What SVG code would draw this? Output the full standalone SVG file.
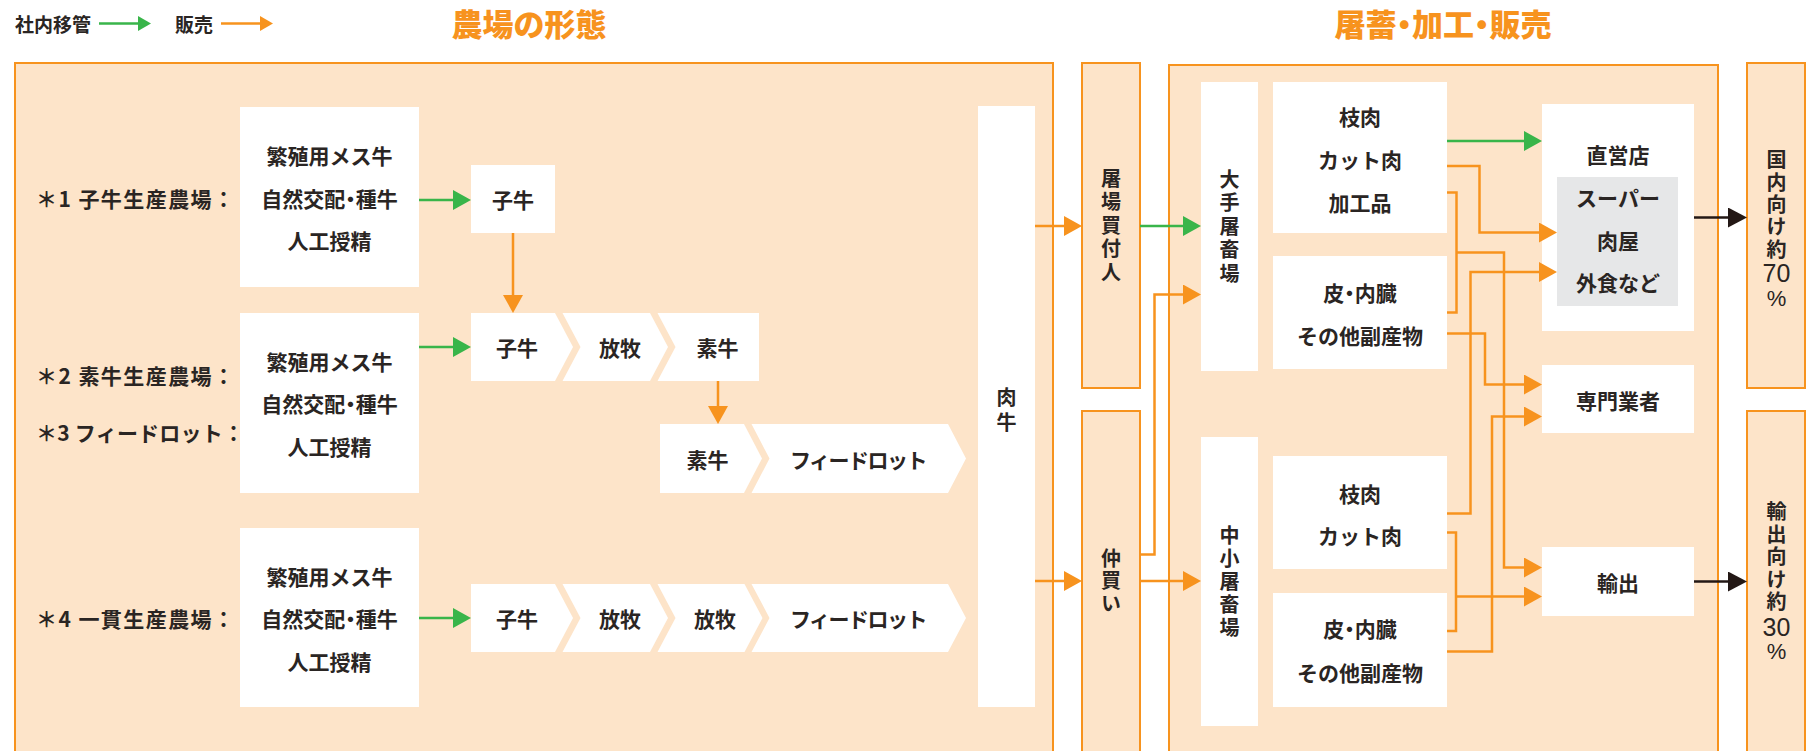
<svg xmlns="http://www.w3.org/2000/svg" width="1816" height="751" viewBox="0 0 1816 751">
<defs>
<style>
.t{font-family:"Noto Sans CJK JP","Noto Sans",sans-serif;font-size:21px;font-weight:700;fill:#2a2523;text-anchor:middle;dominant-baseline:central}
.p{font-feature-settings:"palt" 1}
.fl{letter-spacing:-1.5px}
.v{font-family:"Noto Sans CJK JP","Noto Sans",sans-serif;font-size:20px;font-weight:700;fill:#2a2523;text-anchor:middle;writing-mode:vertical-rl}
.n{font-family:"Liberation Sans",Arial,sans-serif;font-size:25px;font-weight:400;fill:#2a2523;text-anchor:middle;dominant-baseline:central}
.pc{font-family:"Liberation Sans",Arial,sans-serif;font-size:22px;font-weight:400;fill:#2a2523;text-anchor:middle;dominant-baseline:central}
.lab{font-family:"Noto Sans CJK JP","Noto Sans",sans-serif;font-size:21px;font-weight:700;fill:#2a2523;dominant-baseline:central}
.leg{font-family:"Noto Sans CJK JP","Noto Sans",sans-serif;font-size:19px;font-weight:700;fill:#2a2523;dominant-baseline:central}
.ttl{font-family:"Noto Sans CJK JP","Noto Sans",sans-serif;font-size:31px;font-weight:900;fill:#F7931E;text-anchor:middle;dominant-baseline:central}
.frame{fill:#FDE4C9;stroke:#F7931E;stroke-width:2}
.wb{fill:#FFFFFF}
.gb{fill:#E6E7E8}
.o{fill:none;stroke:#F7931E;stroke-width:2.5}
.g{fill:none;stroke:#39B54A;stroke-width:2.5}
.k{fill:none;stroke:#231815;stroke-width:2.5}
</style>
<marker id="mO" markerUnits="userSpaceOnUse" markerWidth="18" markerHeight="20" refX="0" refY="10" orient="auto"><path d="M0,0 L18,10 L0,20 Z" fill="#F7931E"/></marker>
<marker id="mG" markerUnits="userSpaceOnUse" markerWidth="18" markerHeight="20" refX="0" refY="10" orient="auto"><path d="M0,0 L18,10 L0,20 Z" fill="#39B54A"/></marker>
<marker id="mK" markerUnits="userSpaceOnUse" markerWidth="19" markerHeight="20" refX="0" refY="10" orient="auto"><path d="M0,0 L19,10 L0,20 Z" fill="#231815"/></marker>
<marker id="mOs" markerUnits="userSpaceOnUse" markerWidth="13" markerHeight="15" refX="0" refY="7.5" orient="auto"><path d="M0,0 L13,7.5 L0,15 Z" fill="#F7931E"/></marker>
<marker id="mGs" markerUnits="userSpaceOnUse" markerWidth="13" markerHeight="15" refX="0" refY="7.5" orient="auto"><path d="M0,0 L13,7.5 L0,15 Z" fill="#39B54A"/></marker>
</defs>
<rect width="1816" height="751" fill="#FFFFFF"/>

<g id="legend">
<text class="leg" x="15" y="23.5">社内移管</text>
<text class="leg" x="175" y="23.5">販売</text>
</g>
<g id="title-farm"><text class="ttl" x="529" y="22">農場の形態</text></g>
<g id="title-proc"><text class="ttl p" x="1443" y="22">屠蓄・加工・販売</text></g>

<g id="farm-area"><rect class="frame" x="15" y="63" width="1038" height="720"/></g>
<g id="buyer"><rect class="frame" x="1082" y="63" width="58" height="325"/>
<text class="v" x="1111" y="226.7" letter-spacing="3.5">屠場買付人</text></g>
<g id="broker"><rect class="frame" x="1082" y="411" width="58" height="372"/>
<text class="v" x="1111" y="581.7" letter-spacing="2.5">仲買い</text></g>
<g id="proc-area"><rect class="frame" x="1169" y="65" width="549" height="720"/></g>
<g id="domestic"><rect class="frame" x="1747" y="63" width="58" height="325"/>
<text class="v" x="1776.5" y="205.6" letter-spacing="2.3">国内向け約</text>
<text class="n" x="1776.5" y="273">70</text>
<text class="pc" x="1776.5" y="298">%</text></g>
<g id="export-share"><rect class="frame" x="1747" y="411" width="58" height="372"/>
<text class="v" x="1776.5" y="557.9" letter-spacing="2.4">輸出向け約</text>
<text class="n" x="1776.5" y="626.5">30</text>
<text class="pc" x="1776.5" y="651.5">%</text></g>

<g id="label-1"><text class="lab" x="36" y="198" textLength="198" lengthAdjust="spacing">＊1 子牛生産農場：</text></g>
<g id="label-2"><text class="lab" x="36" y="375" textLength="198" lengthAdjust="spacing">＊2 素牛生産農場：</text></g>
<g id="label-3"><text class="lab" x="36" y="432" textLength="208" lengthAdjust="spacing">＊3 フィードロット：</text></g>
<g id="label-4"><text class="lab" x="36" y="618" textLength="198" lengthAdjust="spacing">＊4 一貫生産農場：</text></g>

<g id="breed-1"><rect class="wb" x="240" y="107" width="179" height="180"/>
<text class="t" x="329.5" y="155">繁殖用メス牛</text><text class="t p" x="329.5" y="198">自然交配・種牛</text><text class="t" x="329.5" y="240">人工授精</text></g>
<g id="breed-2"><rect class="wb" x="240" y="313" width="179" height="180"/>
<text class="t" x="329.5" y="361">繁殖用メス牛</text><text class="t p" x="329.5" y="403">自然交配・種牛</text><text class="t" x="329.5" y="446">人工授精</text></g>
<g id="breed-3"><rect class="wb" x="240" y="528" width="179" height="179"/>
<text class="t" x="329.5" y="576">繁殖用メス牛</text><text class="t p" x="329.5" y="618">自然交配・種牛</text><text class="t" x="329.5" y="661">人工授精</text></g>

<g id="calf-1"><rect class="wb" x="471" y="165" width="84" height="68"/><text class="t" x="513" y="199">子牛</text></g>

<g id="row2-calf"><path class="wb" d="M471,313 L555,313 L573,347 L555,381 L471,381 Z"/><text class="t" x="517" y="347">子牛</text></g>
<g id="row2-graze"><path class="wb" d="M562.5,313 L650,313 L668,347 L650,381 L562.5,381 L580.5,347 Z"/><text class="t" x="620" y="347">放牧</text></g>
<g id="row2-stocker"><path class="wb" d="M657.5,313 L759,313 L759,381 L657.5,381 L675.5,347 Z"/><text class="t" x="717.5" y="347">素牛</text></g>

<g id="row2b-stocker"><path class="wb" d="M660,424 L744,424 L762,458.5 L744,493 L660,493 Z"/><text class="t" x="707.5" y="458.5">素牛</text></g>
<g id="row2b-feedlot"><path class="wb" d="M751.5,424 L948,424 L966,458.5 L948,493 L751.5,493 L769.5,458.5 Z"/><text class="t fl" x="858" y="458.5">フィードロット</text></g>

<g id="row3-calf"><path class="wb" d="M471,584 L555,584 L573,618 L555,652 L471,652 Z"/><text class="t" x="517" y="618">子牛</text></g>
<g id="row3-graze1"><path class="wb" d="M562.5,584 L650,584 L668,618 L650,652 L562.5,652 L580.5,618 Z"/><text class="t" x="620" y="618">放牧</text></g>
<g id="row3-graze2"><path class="wb" d="M657.5,584 L744.5,584 L762.5,618 L744.5,652 L657.5,652 L675.5,618 Z"/><text class="t" x="715" y="618">放牧</text></g>
<g id="row3-feedlot"><path class="wb" d="M751.5,584 L948,584 L966,618 L948,652 L751.5,652 L769.5,618 Z"/><text class="t fl" x="858" y="618">フィードロット</text></g>

<g id="beef"><rect class="wb" x="978" y="106" width="57" height="601"/>
<text class="v" x="1006.5" y="412" letter-spacing="5">肉牛</text></g>

<g id="large-slaughter"><rect class="wb" x="1201" y="82" width="57" height="289"/>
<text class="v" x="1229.5" y="227.7" letter-spacing="3.5">大手屠畜場</text></g>
<g id="small-slaughter"><rect class="wb" x="1201" y="437" width="57" height="289"/>
<text class="v" x="1229.5" y="583" letter-spacing="3">中小屠畜場</text></g>

<g id="large-meat"><rect class="wb" x="1273" y="82" width="174" height="151"/>
<text class="t" x="1360" y="116">枝肉</text><text class="t" x="1360" y="159">カット肉</text><text class="t" x="1360" y="201.5">加工品</text></g>
<g id="large-byproduct"><rect class="wb" x="1273" y="256" width="174" height="113"/>
<text class="t p" x="1360" y="292">皮・内臓</text><text class="t" x="1360" y="335">その他副産物</text></g>
<g id="small-meat"><rect class="wb" x="1273" y="456" width="174" height="113"/>
<text class="t" x="1360" y="493">枝肉</text><text class="t" x="1360" y="535">カット肉</text></g>
<g id="small-byproduct"><rect class="wb" x="1273" y="593" width="174" height="114"/>
<text class="t p" x="1360" y="628">皮・内臓</text><text class="t" x="1360" y="671.5">その他副産物</text></g>

<g id="retail"><rect class="wb" x="1542" y="104" width="152" height="227"/><rect class="gb" x="1557" y="177" width="121" height="129"/>
<text class="t" x="1618" y="154">直営店</text><text class="t" x="1618" y="197">スーパー</text><text class="t" x="1618" y="240">肉屋</text><text class="t" x="1618" y="282">外食など</text></g>
<g id="specialist"><rect class="wb" x="1542" y="365" width="152" height="68"/><text class="t" x="1618" y="400">専門業者</text></g>
<g id="export"><rect class="wb" x="1542" y="547" width="152" height="69"/><text class="t" x="1618" y="581.5">輸出</text></g>

<g id="connectors">
<path class="g" d="M99,23.5 H138" marker-end="url(#mGs)"/>
<path class="o" d="M221,23.5 H260" marker-end="url(#mOs)"/>
<path class="g" d="M419,200 H453" marker-end="url(#mG)"/>
<path class="o" d="M513,233 V295" marker-end="url(#mO)"/>
<path class="g" d="M419,347 H453" marker-end="url(#mG)"/>
<path class="o" d="M718,381 V406" marker-end="url(#mO)"/>
<path class="g" d="M419,618 H453" marker-end="url(#mG)"/>
<path class="o" d="M1035,226 H1064" marker-end="url(#mO)"/>
<path class="o" d="M1035,581 H1064" marker-end="url(#mO)"/>
<path class="g" d="M1140,226 H1183" marker-end="url(#mG)"/>
<path class="o" d="M1140,554.5 H1154.5 V294.5 H1183" marker-end="url(#mO)"/>
<path class="o" d="M1140,581 H1183" marker-end="url(#mO)"/>
<path class="g" d="M1447,141 H1524" marker-end="url(#mG)"/>
<path class="o" d="M1447,166 H1479.5 V232.5 H1539" marker-end="url(#mO)"/>
<path class="o" d="M1447,192.5 H1456.5 V312.5 H1447"/>
<path class="o" d="M1456.5,252.5 H1504 V567.5 H1524" marker-end="url(#mO)"/>
<path class="o" d="M1447,333.5 H1485 V384.5 H1524" marker-end="url(#mO)"/>
<path class="o" d="M1447,513.5 H1470.5 V272 H1539" marker-end="url(#mO)"/>
<path class="o" d="M1447,651.5 H1492 V416.5 H1524" marker-end="url(#mO)"/>
<path class="o" d="M1447,532.5 H1456 V631 H1447"/>
<path class="o" d="M1456,596.5 H1524" marker-end="url(#mO)"/>
<path class="k" d="M1694,217.5 H1728" marker-end="url(#mK)"/>
<path class="k" d="M1694,581.5 H1728" marker-end="url(#mK)"/>
</g>
</svg>
